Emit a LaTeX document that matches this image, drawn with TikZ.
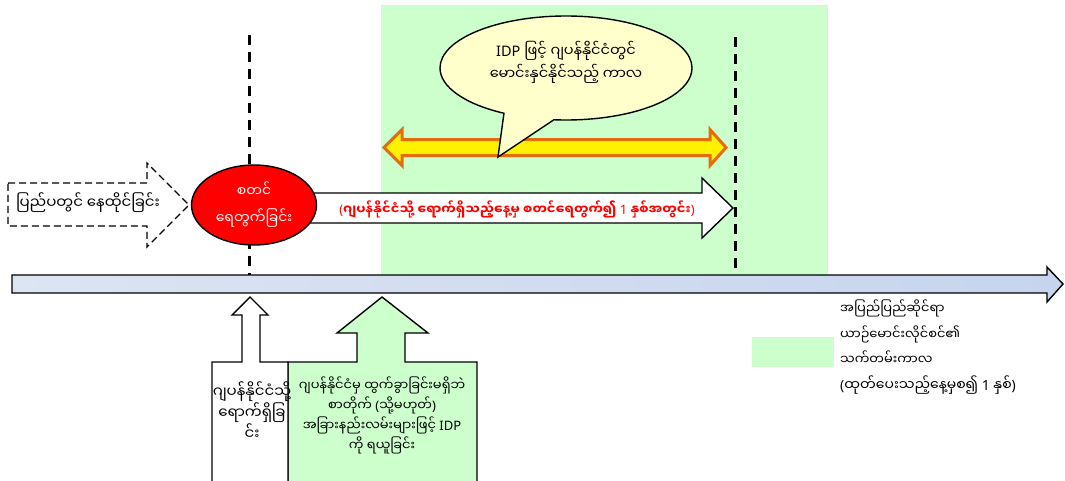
\documentclass[tikz,border=0pt]{standalone}
\usepackage{fontspec}
\setmainfont{Noto Sans}
\newfontfamily\mmfont[Script=Myanmar]{Noto Sans Myanmar UI}
\newcommand\my[1]{{\mmfont #1}}
\usetikzlibrary{shapes.geometric,shapes.callouts}

\definecolor{periodgreen}{RGB}{204,255,204}
\definecolor{calloutyellow}{RGB}{255,255,204}
\definecolor{arroworange}{RGB}{228,108,10}
\definecolor{axisleft}{RGB}{221,228,242}
\definecolor{axismid}{RGB}{217,217,217}
\definecolor{axisright}{RGB}{198,212,238}

\begin{document}
\begin{tikzpicture}[x=1pt,y=-1pt,
    font=\fontsize{13}{20}\selectfont,
    marker/.style={line width=3pt,dash pattern=on 10pt off 7pt},
    blockarrow/.style={draw=black,line width=1.4pt,line join=miter}]
  \useasboundingbox (0,0) rectangle (1065,480);

  % licence period
  \fill[periodgreen] (381,5) rectangle (828,276);

  \draw[marker] (249,35) -- (249,276);
  \draw[marker] (735,37) -- (735,276);

  % timeline
  \draw[blockarrow,left color=axisleft,middle color=axismid,right color=axisright]
    (12,275) -- (1047,275) -- (1047,267) -- (1063,284) -- (1047,302)
    -- (1047,293) -- (12,293) -- cycle;

  % before arrival
  \draw[line width=1.4pt,dash pattern=on 7pt off 4pt,fill=white]
    (8,183) -- (147,183) -- (147,163) -- (189,205) -- (147,247) -- (147,226) -- (8,226) -- cycle;
  \node[font=\fontsize{15}{20}\selectfont] (abroad) at (88,203) {\my{ပြည်ပတွင် နေထိုင်ခြင်း}};

  % one year from arrival
  \draw[blockarrow,fill=white]
    (310,193) -- (702,193) -- (702,178) -- (733,208) -- (702,238) -- (702,223) -- (310,223) -- cycle;
  \node[text=red,font=\fontsize{13}{20}\selectfont\bfseries] (oneyear) at (517,209)
    {(\my{ဂျပန်နိုင်ငံသို့ ရောက်ရှိသည့်နေ့မှ စတင်ရေတွက်၍} 1 \my{နှစ်အတွင်း})};

  \node[ellipse,draw=black,line width=1.4pt,fill=red,text=white,minimum width=125,minimum height=80,
    align=center,font=\fontsize{14}{27}\selectfont] (start) at (254,205)
    {\my{စတင်}\\\my{ရေတွက်ခြင်း}};

  % driving period
  \draw[line width=3pt,draw=arroworange,fill=yellow,line join=miter]
    (384,147.5) -- (402,129.5) -- (402,139.5) -- (710,139.5) -- (710,129.5) -- (726,147.5)
    -- (710,165.5) -- (710,155.5) -- (402,155.5) -- (402,165.5) -- cycle;

  \node[ellipse callout,draw=black,line width=1.4pt,fill=calloutyellow,
    minimum width=252,minimum height=104,callout pointer arc=24,
    callout absolute pointer={(498,157)},align=center,text depth=16pt,
    font=\fontsize{14.5}{23}\selectfont] (drive) at (566,68)
    {IDP \my{ဖြင့် ဂျပန်နိုင်ငံတွင်}\\\my{မောင်းနှင်နိုင်သည့် ကာလ}};

  % how the IDP is obtained
  \draw[blockarrow,fill=periodgreen]
    (288,484) -- (288,362) -- (357,362) -- (357,333) -- (337,333) -- (382,297) -- (428,333)
    -- (405,333) -- (405,362) -- (477,362) -- (477,484);
  \draw[blockarrow,fill=white]
    (212,484) -- (212,362) -- (242,362) -- (242,315) -- (232,315) -- (250,297) -- (268,315)
    -- (260,315) -- (260,362) -- (288,362) -- (288,484);
  \node[align=center,font=\fontsize{15}{21}\selectfont] (arrival) at (252,411)
    {\my{ဂျပန်နိုင်ငံသို့}\\\my{ရောက်ရှိခြ}\\\my{င်း}};
  \node[align=center,font=\fontsize{13}{20}\selectfont] (post) at (382,415)
    {\my{ဂျပန်နိုင်ငံမှ ထွက်ခွာခြင်းမရှိဘဲ}\\\my{စာတိုက်} (\my{သို့မဟုတ်})\\
     \my{အခြားနည်းလမ်းများဖြင့်} IDP\\\my{ကို ရယူခြင်း}};

  % legend
  \fill[periodgreen] (752,337) rectangle (834,367);
  \node[anchor=north west,align=left,font=\fontsize{13}{25.5}\selectfont,inner sep=0pt] (legend) at (840,300)
    {\my{အပြည်ပြည်ဆိုင်ရာ}\\\my{ယာဉ်မောင်းလိုင်စင်၏}\\\my{သက်တမ်းကာလ}\\
     {\fontsize{14}{25.5}\selectfont(\my{ထုတ်ပေးသည့်နေ့မှစ၍} 1 \my{နှစ်})}};
\end{tikzpicture}
\end{document}
